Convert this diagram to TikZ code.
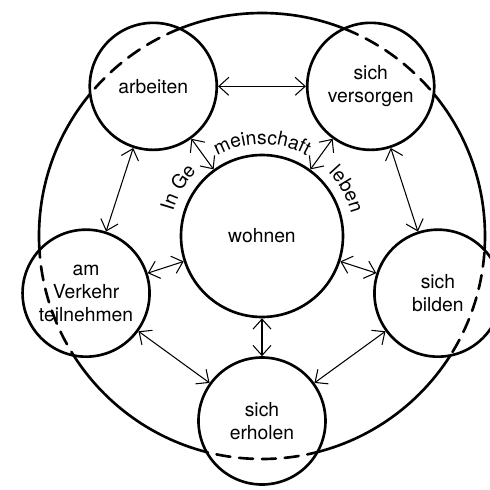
\documentclass[tikz,border=0pt]{standalone}
\usepackage{fontspec}
\setmainfont{TeX Gyre Heros}
\usetikzlibrary{arrows.meta,decorations.text}
\newcommand\arcfont{\fontsize{11}{13}\selectfont}

\begin{document}
\begin{tikzpicture}[>={Straight Barb[length=2mm,width=3.6mm]},font=\arcfont,line cap=round,
  place/.style={circle,draw,line width=1.5pt,fill=white,minimum size=2.54cm,inner sep=0pt,align=center},
  link/.style={<->,line width=0.6pt},
  ring/.style={line width=1.5pt}]
\useasboundingbox (-5.24,-5.08) rectangle (4.56,4.72);
% outer ring
\draw[ring] (0,0) circle (4.46);
\node[place,minimum size=3.24cm] (wohnen) at (0,0) {wohnen};
\node[place] (arbeiten) at (126:3.7) {arbeiten};
\node[place] (versorgen) at (54:3.7) {sich\\versorgen};
\node[place] (verkehr) at (198:3.7) {am\\Verkehr\\teilnehmen};
\node[place] (bilden) at (-18:3.7) {sich\\bilden};
\node[place] (erholen) at (-90:3.7) {sich\\erholen};
% ring dashed inside the circles
\foreach \n in {arbeiten,versorgen,verkehr,bilden,erholen}{
  \begin{scope}
    \clip (\n.center) circle (1.26);
    \draw[ring,dash pattern=on 8pt off 5pt] (0,0) circle (4.46);
  \end{scope}
}
\draw[link] (arbeiten) -- (versorgen);
\draw[link] (arbeiten) -- (verkehr);
\draw[link] (versorgen) -- (bilden);
\draw[link] (verkehr) -- (erholen);
\draw[link] (bilden) -- (erholen);
\draw[link] (arbeiten) -- (wohnen);
\draw[link] (versorgen) -- (wohnen);
\draw[link] (verkehr) -- (wohnen);
\draw[link] (bilden) -- (wohnen);
\draw[link] (erholen) -- (wohnen);
% text round wohnen
\path[decorate,decoration={text along path,text={|\arcfont|In Ge},text align=center}]
  (166:1.84) arc[start angle=166,end angle=134,radius=1.84];
\path[decorate,decoration={text along path,text={|\arcfont|meinschaft},text align=center}]
  (118:1.84) arc[start angle=118,end angle=62,radius=1.84];
\path[decorate,decoration={text along path,text={|\arcfont|leben},text align=center}]
  (46:1.84) arc[start angle=46,end angle=12,radius=1.84];
\end{tikzpicture}
\end{document}
